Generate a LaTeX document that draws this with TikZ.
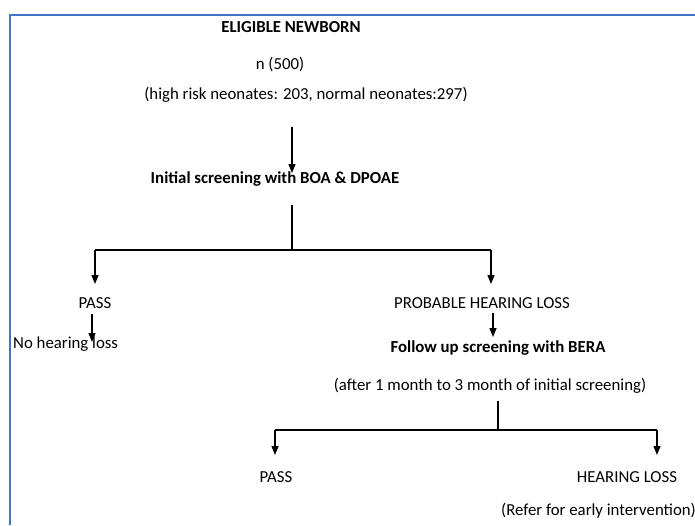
\documentclass[tikz,border=0pt]{standalone}
\usepackage{fontspec}
\setmainfont{Carlito}
\usetikzlibrary{arrows.meta}
\definecolor{frameblue}{RGB}{68,114,196}
\begin{document}
\begin{tikzpicture}[x=1pt,y=-1pt,
  txt/.style={inner sep=0pt,font=\fontsize{16.8}{19}\selectfont},
  btxt/.style={txt,font=\fontsize{16.8}{19}\selectfont\bfseries},
  conn/.style={line width=1.4pt,black},
  arr/.style={conn,-{Triangle[length=9pt,width=7pt]}}]
\useasboundingbox (0,0) rectangle (695,525);
\draw[line width=2.2pt,frameblue] (10,525) -- (10,15) -- (695,15);
\node[btxt] (elig) at (291,27) {ELIGIBLE NEWBORN};
\node[txt] (n) at (280,65) {n (500)};
\node[txt] (risk) at (306,95) {(high risk neonates: 203, normal neonates:297)};
\coordinate (a1s) at (292,127);
\coordinate (a1e) at (292,173);
\node[btxt] (init) at (275,179) {Initial screening with BOA \& DPOAE};
\draw[arr] (a1s) -- (a1e);
\coordinate (v1t) at (292,205);
\coordinate (v1b) at (292,250);
\coordinate (h1l) at (95,250);
\coordinate (h1r) at (491,250);
\coordinate (p1e) at (95,284);
\coordinate (q1e) at (491,284);
\draw[conn] (v1t) -- (v1b);
\draw[conn] (h1l) -- (h1r);
\draw[arr] (h1l) -- (p1e);
\draw[arr] (h1r) -- (q1e);
\node[txt] (pass1) at (95,303) {PASS};
\node[txt] (prob) at (482,303) {PROBABLE HEARING LOSS};
\coordinate (p2s) at (92,314);
\coordinate (p2e) at (92,342);
\node[txt,anchor=west] (nohl) at (13,344) {No hearing loss};
\draw[arr] (p2s) -- (p2e);
\coordinate (q2s) at (493,313);
\coordinate (q2e) at (493,337);
\draw[arr] (q2s) -- (q2e);
\node[btxt] (follow) at (498,348) {Follow up screening with BERA};
\node[txt] (after) at (490,386) {(after 1 month to 3 month of initial screening)};
\coordinate (v2t) at (498,401);
\coordinate (v2b) at (498,430);
\coordinate (h2l) at (275,430);
\coordinate (h2r) at (657,430);
\coordinate (r1e) at (275,455);
\coordinate (r2e) at (657,455);
\draw[conn] (v2t) -- (v2b);
\draw[conn] (h2l) -- (h2r);
\draw[arr] (h2l) -- (r1e);
\draw[arr] (h2r) -- (r2e);
\node[txt] (pass2) at (276,477) {PASS};
\node[txt] (hl) at (627,477) {HEARING LOSS};
\node[txt,anchor=east] (refer) at (696,511) {(Refer for early intervention)};
\end{tikzpicture}
\end{document}
